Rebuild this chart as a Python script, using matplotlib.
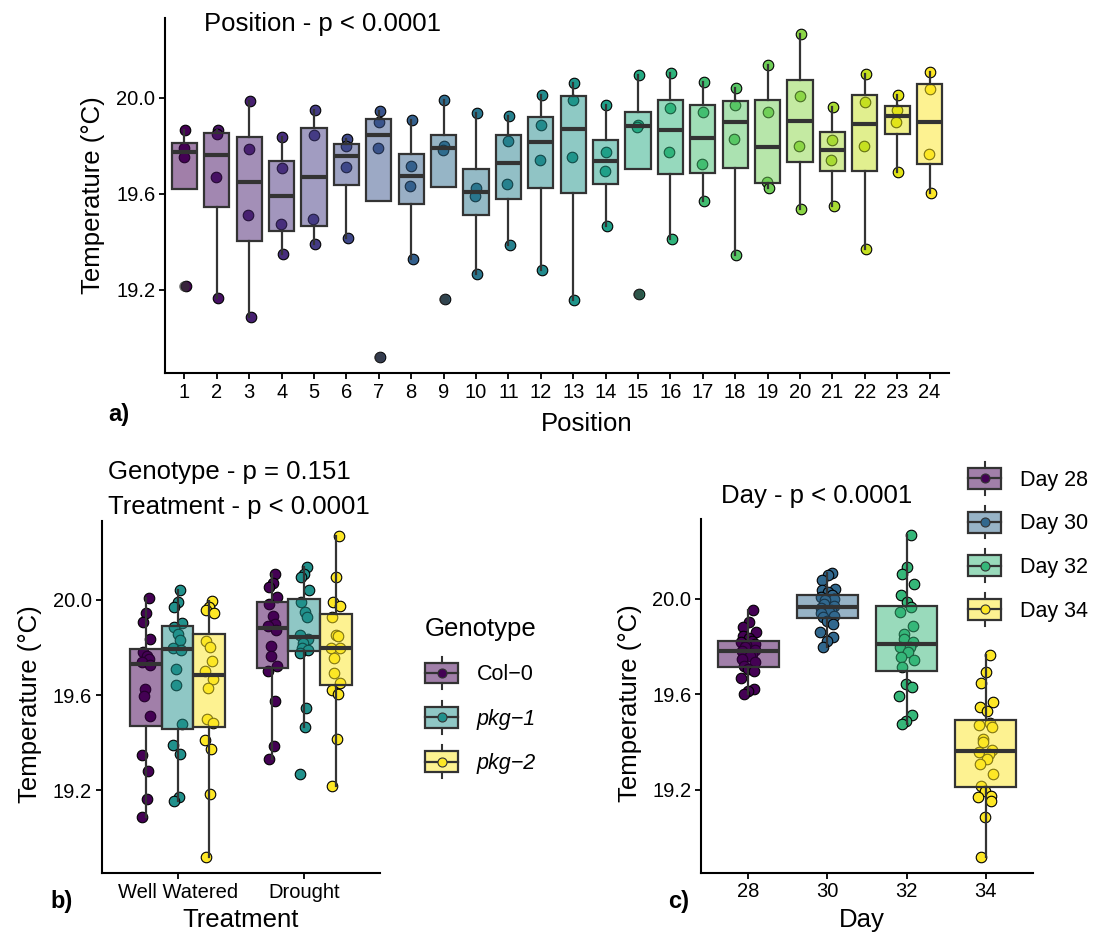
import numpy as np
import matplotlib
matplotlib.use("Agg")
import matplotlib.pyplot as plt
from matplotlib.colors import to_rgb
from matplotlib.patches import Rectangle
from matplotlib.lines import Line2D
from matplotlib.legend_handler import HandlerBase

plt.rcParams['font.family'] = ['Liberation Sans', 'DejaVu Sans']

# ---- data ----
# a) four readings per bench position
positions = list(range(1, 25))
position_temps = [
    [19.868, 19.792, 19.754, 19.215], [19.864, 19.851, 19.671, 19.167],
    [19.989, 19.785, 19.511, 19.088], [19.836, 19.706, 19.475, 19.351],
    [19.949, 19.847, 19.493, 19.389], [19.829, 19.801, 19.711, 19.417],
    [19.944, 19.899, 19.789, 18.921], [19.907, 19.718, 19.632, 19.329],
    [19.990, 19.799, 19.782, 19.163], [19.938, 19.625, 19.593, 19.267],
    [19.926, 19.819, 19.642, 19.385], [20.014, 19.889, 19.740, 19.281],
    [20.063, 19.990, 19.754, 19.156], [19.969, 19.775, 19.697, 19.465],
    [20.096, 19.889, 19.879, 19.183], [20.104, 19.956, 19.775, 19.410],
    [20.068, 19.940, 19.725, 19.572], [20.042, 19.971, 19.829, 19.346],
    [20.135, 19.943, 19.650, 19.625], [20.268, 20.008, 19.801, 19.535],
    [19.964, 19.824, 19.742, 19.549], [20.101, 19.983, 19.801, 19.371],
    [20.013, 19.949, 19.900, 19.690], [20.108, 20.039, 19.764, 19.604],
]

# b) genotype x treatment
treatments = ["Well Watered", "Drought"]
genotypes = ["Col\u22120", "pkg\u22121", "pkg\u22122"]
ww_col0 = [20.008, 19.944, 19.909, 19.836, 19.780, 19.763, 19.750, 19.740,
           19.725, 19.624, 19.596, 19.512, 19.348, 19.280, 19.164, 19.090]
ww_pkg1 = [20.042, 19.993, 19.969, 19.905, 19.886, 19.858, 19.833, 19.800,
           19.790, 19.710, 19.642, 19.480, 19.390, 19.355, 19.171, 19.157]
ww_pkg2 = [19.996, 19.969, 19.958, 19.947, 19.826, 19.802, 19.742, 19.700,
           19.666, 19.631, 19.498, 19.482, 19.412, 19.373, 19.185, 18.920]
dr_col0 = [20.109, 20.070, 20.056, 20.011, 19.985, 19.933, 19.900, 19.890,
           19.875, 19.805, 19.763, 19.721, 19.700, 19.575, 19.387, 19.331]
dr_pkg1 = [20.137, 20.111, 20.095, 20.042, 19.990, 19.951, 19.930, 19.854,
           19.837, 19.819, 19.798, 19.790, 19.777, 19.545, 19.468, 19.268]
dr_pkg2 = [20.269, 20.098, 19.993, 19.975, 19.930, 19.854, 19.847, 19.800,
           19.798, 19.756, 19.693, 19.652, 19.621, 19.603, 19.415, 19.220]

# c) by day
days = [28, 30, 32, 34]
day28 = [19.954, 19.902, 19.881, 19.862, 19.846, 19.835, 19.822, 19.818,
         19.811, 19.805, 19.797, 19.786, 19.780, 19.770, 19.760, 19.749,
         19.735, 19.718, 19.705, 19.697, 19.669, 19.623, 19.613, 19.602]
day30 = [20.108, 20.098, 20.077, 20.042, 20.035, 20.030, 20.014, 20.008,
         20.000, 19.993, 19.980, 19.970, 19.960, 19.952, 19.944, 19.940,
         19.930, 19.923, 19.909, 19.895, 19.860, 19.839, 19.825, 19.797]
day32 = [20.269, 20.135, 20.105, 20.063, 20.014, 19.986, 19.965, 19.944,
         19.888, 19.853, 19.832, 19.818, 19.800, 19.797, 19.776, 19.755,
         19.742, 19.714, 19.644, 19.630, 19.595, 19.512, 19.490, 19.475]
day34 = [19.763, 19.693, 19.647, 19.567, 19.546, 19.532, 19.480, 19.470,
         19.462, 19.414, 19.399, 19.365, 19.358, 19.351, 19.330, 19.309,
         19.267, 19.218, 19.195, 19.176, 19.169, 19.155, 19.085, 18.918]

EDGE = '#333333'
YLIM = (18.853, 20.333)
YTICKS = [19.2, 19.6, 20.0]


def jitter(n, width):
    # deterministic spread instead of random jitter
    return width * np.sin(np.arange(n) * 2.39996 + 0.7)


def draw_group(ax, vals, x, color, box_w, jit, fliers=True):
    vals = np.asarray(vals)
    ax.plot(x + jitter(len(vals), jit), vals, 'o', ms=7.6, mfc=color,
            mec='black', mew=0.8, zorder=2)
    ax.boxplot(vals, positions=[x], widths=box_w, patch_artist=True,
               showcaps=False, showfliers=fliers, manage_ticks=False, zorder=3,
               boxprops=dict(facecolor=(*to_rgb(color), 0.5), edgecolor=EDGE, linewidth=1.6),
               medianprops=dict(color=EDGE, linewidth=3.0),
               whiskerprops=dict(color=EDGE, linewidth=1.6),
               flierprops=dict(marker='o', markersize=7.6, markerfacecolor=(0.2, 0.2, 0.2, 0.7),
                               markeredgecolor='none'))


def style_axes(ax):
    for s in ['top', 'right']:
        ax.spines[s].set_visible(False)
    for s in ['left', 'bottom']:
        ax.spines[s].set_linewidth(1.5)
    ax.tick_params(length=4, width=1.3, labelsize=14.5, pad=3)
    ax.set_ylim(*YLIM)
    ax.set_yticks(YTICKS)
    ax.set_yticklabels([f"{t:.1f}" for t in YTICKS])


class BoxKey:
    def __init__(self, color):
        self.color = color


class BoxKeyHandler(HandlerBase):
    def create_artists(self, legend, handle, xd, yd, w, h, fontsize, trans):
        x0, y0 = -xd, -yd
        wk = h * 0.28
        fill = (*to_rgb(handle.color), 0.5)
        return [
            Line2D([x0 + w / 2] * 2, [y0 + h, y0 + h + wk], color=EDGE, lw=1.5, transform=trans),
            Line2D([x0 + w / 2] * 2, [y0 - wk, y0], color=EDGE, lw=1.5, transform=trans),
            Rectangle((x0, y0), w, h, facecolor=fill, edgecolor=EDGE, lw=1.6, transform=trans),
            Line2D([x0, x0 + w], [y0 + h / 2] * 2, color=EDGE, lw=1.6, transform=trans),
            Line2D([x0 + w / 2], [y0 + h / 2], marker='o', ms=6.5, mfc=handle.color,
                   mec=EDGE, mew=0.8, transform=trans),
        ]


W, H = 1097, 938
fig = plt.figure(figsize=(W / 100, H / 100), dpi=100)


def px_axes(l, t, r, b):
    return fig.add_axes([l / W, 1 - b / H, (r - l) / W, (b - t) / H])


# ---------------- a) position ----------------
axA = px_axes(165, 18, 949, 373)
pos_colors = plt.cm.viridis(np.linspace(0, 1, len(positions)))
for p, vals, c in zip(positions, position_temps, pos_colors):
    draw_group(axA, vals, p, c, 0.78, 0.04)
style_axes(axA)
axA.set_xlim(0.4, 24.6)
axA.set_xticks(positions)
axA.set_xticklabels([str(p) for p in positions])
axA.set_xlabel("Position", fontsize=18.5)
axA.xaxis.set_label_coords(0.538, -0.11)
axA.set_ylabel("Temperature (\u00b0C)", fontsize=18.5)
axA.yaxis.set_label_coords(-0.076, 0.5)
fig.text(204 / W, 1 - 30.7 / H, "Position - p < 0.0001", fontsize=18.5, va='baseline')
fig.text(108 / W, 1 - 421 / H, "a)", fontsize=17, fontweight='bold', va='baseline')

# ---------------- b) genotype x treatment ----------------
axB = px_axes(101.7, 520.7, 380, 873)
geno_colors = plt.cm.viridis(np.linspace(0, 1, 3))
groups_b = [[ww_col0, ww_pkg1, ww_pkg2], [dr_col0, dr_pkg1, dr_pkg2]]
for i, grp in enumerate(groups_b):
    for j, vals in enumerate(grp):
        draw_group(axB, vals, i + 1 + (j - 1) * 0.25, geno_colors[j], 0.25, 0.035, fliers=False)
style_axes(axB)
axB.set_xlim(0.4, 2.6)
axB.set_xticks([1, 2])
axB.set_xticklabels(treatments)
axB.set_xlabel("Treatment", fontsize=18.5)
axB.xaxis.set_label_coords(0.5, -0.1)
axB.set_ylabel("Temperature (\u00b0C)", fontsize=18.5)
axB.yaxis.set_label_coords(-0.215, 0.48)
fig.text(108 / W, 1 - 479 / H, "Genotype - p = 0.151", fontsize=18.5, va='baseline')
fig.text(108 / W, 1 - 514 / H, "Treatment - p < 0.0001", fontsize=18.5, va='baseline')
fig.text(50 / W, 1 - 908 / H, "b)", fontsize=17, fontweight='bold', va='baseline')

legB = fig.legend(handles=[BoxKey(c) for c in geno_colors], labels=genotypes,
                  handler_map={BoxKey: BoxKeyHandler()}, loc='upper left',
                  bbox_to_anchor=(425 / W, 1 - 617 / H), frameon=False,
                  title="Genotype", title_fontsize=18.5, fontsize=15.5,
                  handlelength=1.55, handleheight=1.12, handletextpad=0.85,
                  labelspacing=1.0, borderpad=0, borderaxespad=0, alignment='left')
for t in legB.get_texts()[1:]:
    t.set_fontstyle('italic')

# ---------------- c) day ----------------
axC = px_axes(701, 519.3, 1033, 872.7)
day_colors = plt.cm.viridis(np.linspace(0, 1, len(days)))
for k, (vals, c) in enumerate(zip([day28, day30, day32, day34], day_colors)):
    draw_group(axC, vals, k + 1, c, 0.77, 0.09, fliers=False)
style_axes(axC)
axC.set_xlim(0.4, 4.6)
axC.set_xticks(range(1, len(days) + 1))
axC.set_xticklabels([str(d) for d in days])
axC.set_xlabel("Day", fontsize=18.5)
axC.xaxis.set_label_coords(0.485, -0.1)
axC.set_ylabel("Temperature (\u00b0C)", fontsize=18.5)
axC.yaxis.set_label_coords(-0.178, 0.48)
fig.text(721 / W, 1 - 502.7 / H, "Day - p < 0.0001", fontsize=18.5, va='baseline')
fig.text(668 / W, 1 - 908 / H, "c)", fontsize=17, fontweight='bold', va='baseline')

fig.legend(handles=[BoxKey(c) for c in day_colors], labels=[f"Day {d}" for d in days],
           handler_map={BoxKey: BoxKeyHandler()}, loc='upper left',
           bbox_to_anchor=(968 / W, 1 - 468 / H), frameon=False, fontsize=15.5,
           handlelength=1.55, handleheight=1.12, handletextpad=0.85,
           labelspacing=0.97, borderpad=0, borderaxespad=0)

fig.savefig("out.png", dpi=100)
